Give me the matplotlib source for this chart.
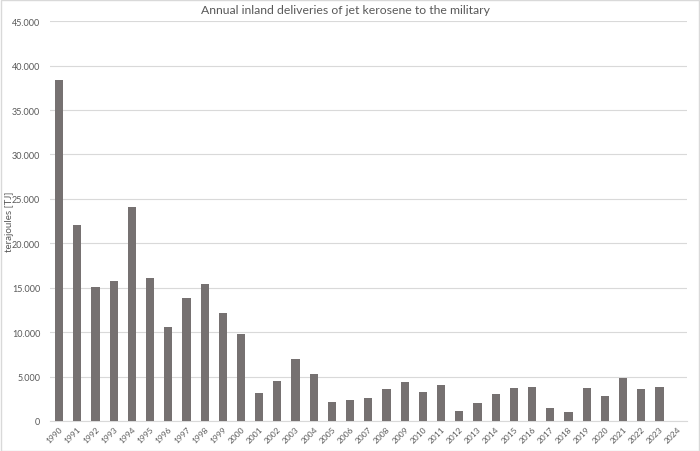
import matplotlib
matplotlib.use("Agg")
import matplotlib.pyplot as plt
from matplotlib.patches import Rectangle
from matplotlib.ticker import FuncFormatter

years = [str(y) for y in range(1990, 2025)]
deliveries = [38400, 22100, 15050, 15750, 24050, 16100, 10600, 13850, 15450, 12150,
              9800, 3200, 4500, 7000, 5250, 2150, 2400, 2550, 3600, 4350,
              3250, 4100, 1100, 2000, 3050, 3700, 3850, 1500, 1000, 3750,
              2850, 4800, 3550, 3850, 0]

TEXT = "#595959"
plt.rcParams['font.family'] = ['Lato', 'DejaVu Sans']

fig = plt.figure(figsize=(7, 4.52), dpi=100)
ax = fig.add_axes([0.0714, 0.0664, 0.9096, 0.8846])

x = range(len(years))
ax.bar(x, deliveries, width=0.45, color="#767171", zorder=3)

ax.set_xlim(-0.5, len(years) - 0.5)
ax.set_ylim(0, 45000)
ax.set_yticks(range(0, 45001, 5000))
ax.yaxis.set_major_formatter(FuncFormatter(lambda v, p: "{:,.0f}".format(v).replace(",", ".")))
ax.set_xticks(list(x))
ax.set_xticklabels(years, rotation=45, ha="right", rotation_mode="anchor", fontsize=6, color=TEXT)
ax.tick_params(axis="y", labelsize=6.5, labelcolor=TEXT, length=0, pad=7)
ax.tick_params(axis="x", length=0, pad=3)

ax.grid(axis="y", color="#d9d9d9", linewidth=0.8, zorder=0)
for s in ["top", "right", "left"]:
    ax.spines[s].set_visible(False)
ax.spines["bottom"].set_color("#d9d9d9")

ax.set_ylabel("terajoules [TJ]", fontsize=7, color=TEXT)
ax.yaxis.set_label_coords(-0.057, 0.5)
fig.text(0.494, 0.976, "Annual inland deliveries of jet kerosene to the military",
         ha="center", va="center", fontsize=8.85, color=TEXT)

fig.patches.append(Rectangle((0.001, 0.001), 0.997, 0.997, transform=fig.transFigure,
                             fill=False, edgecolor="#d9d9d9", linewidth=1))

fig.savefig("out.png", dpi=100)
